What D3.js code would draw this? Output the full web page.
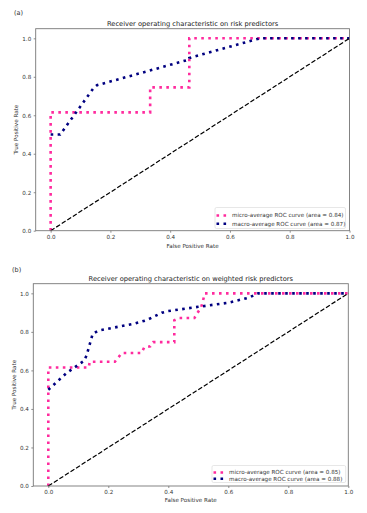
<!DOCTYPE html>
<html><head><meta charset="utf-8">
<script src="https://cdn.jsdelivr.net/npm/d3@7"></script>
<style>html,body{margin:0;padding:0;background:#fff;}svg{display:block;font-family:"DejaVu Sans",sans-serif;}</style>
</head><body>
<script>
// ---- data ----
const panelTags = ["(a)", "(b)"];
const titles = ["Receiver operating characteristic on risk predictors",
                "Receiver operating characteristic on weighted risk predictors"];
const xLabel = "False Positive Rate";
const yLabel = "True Positive Rate";
const tickValues = [0, 0.2, 0.4, 0.6, 0.8, 1.0];
const tickLabels = ["0.0", "0.2", "0.4", "0.6", "0.8", "1.0"];

const microA_fpr = [0, 0, 0.333, 0.333, 0.464, 0.464, 1.0];
const microA_tpr = [0, 0.615, 0.615, 0.745, 0.745, 1.0, 1.0];
const macroA_fpr = [0, 0.032, 0.143, 0.155, 0.464, 0.464, 0.70, 1.0];
const macroA_tpr = [0.5, 0.5, 0.74, 0.756, 0.89, 0.898, 1.0, 1.0];

const microB_fpr = [0, 0, 0.135, 0.138, 0.222, 0.245, 0.31, 0.32, 0.34, 0.35, 0.42, 0.42, 0.435, 0.487, 0.51, 0.522, 1.0];
const microB_tpr = [0, 0.615, 0.615, 0.645, 0.645, 0.69, 0.69, 0.72, 0.725, 0.747, 0.747, 0.86, 0.872, 0.872, 0.93, 1.0, 1.0];
const macroB_fpr = [0, 0.06, 0.12, 0.128, 0.148, 0.166, 0.29, 0.328, 0.378, 0.40, 0.50, 0.60, 0.667, 0.70, 1.0];
const macroB_tpr = [0.5, 0.585, 0.651, 0.68, 0.79, 0.806, 0.844, 0.861, 0.899, 0.908, 0.93, 0.951, 0.977, 1.0, 1.0];

const legendA = ["micro-average ROC curve (area = 0.84)", "macro-average ROC curve (area = 0.87)"];
const legendB = ["micro-average ROC curve (area = 0.85)", "macro-average ROC curve (area = 0.88)"];
const seriesColors = ["deeppink", "navy"];

// ---- layout ----
const W = 367, H = 513;
const panels = [
  {tag: panelTags[0], title: titles[0], micro: [microA_fpr, microA_tpr], macro: [macroA_fpr, macroA_tpr], legend: legendA,
   left: 35.7, right: 349.5, top: 28.7, bottom: 230.7, tagX: 14, tagY: 14.5, titleY: 25.5, xlabY: 247.5, ylabX: 18,
   leg: {x: 215, y: 207.5, w: 130.5, h: 21}},
  {tag: panelTags[1], title: titles[1], micro: [microB_fpr, microB_tpr], macro: [macroB_fpr, macroB_tpr], legend: legendB,
   left: 33.3, right: 348.3, top: 283.7, bottom: 486, tagX: 12, tagY: 271.5, titleY: 280.5, xlabY: 501.5, ylabX: 16,
   leg: {x: 212, y: 465.5, w: 133.7, h: 17}}
];

const svg = d3.select("body").append("svg").attr("width", W).attr("height", H);

const tickFont = 5.6, titleFont = 6.7;

panels.forEach(p => {
  const g = svg.append("g");
  const x = d3.scaleLinear().domain([-0.05, 1.0]).range([p.left, p.right]);
  const y = d3.scaleLinear().domain([0, 1.05]).range([p.bottom, p.top]);

  // panel tag
  g.append("text").attr("x", p.tagX).attr("y", p.tagY).attr("font-size", 6.5).attr("fill", "#333").text(p.tag);
  // title
  g.append("text").attr("x", (p.left + p.right) / 2).attr("y", p.titleY).attr("text-anchor", "middle")
    .attr("font-size", titleFont).attr("fill", "#222").text(p.title);

  const clipId = "clip" + p.tag.replace(/\W/g, "");
  g.append("clipPath").attr("id", clipId).append("rect")
    .attr("x", p.left).attr("y", p.top - 3).attr("width", p.right - p.left + 3).attr("height", p.bottom - p.top + 6);

  const line = d3.line().x(d => x(d[0])).y(d => y(d[1]));
  const zip = (a, b) => a.map((v, i) => [v, b[i]]);
  const plot = g.append("g").attr("clip-path", `url(#${clipId})`);

  plot.append("path").datum(zip(p.micro[0], p.micro[1])).attr("d", line)
    .attr("fill", "none").attr("stroke", seriesColors[0]).attr("stroke-width", 2.6)
    .attr("stroke-dasharray", "2.6 4.4").attr("stroke-linecap", "butt").attr("opacity", 0.9);
  plot.append("path").datum(zip(p.macro[0], p.macro[1])).attr("d", line)
    .attr("fill", "none").attr("stroke", seriesColors[1]).attr("stroke-width", 2.6)
    .attr("stroke-dasharray", "2.6 4.4").attr("stroke-linecap", "butt");
  plot.append("path").datum([[0, 0], [1, 1]]).attr("d", line)
    .attr("fill", "none").attr("stroke", "#000").attr("stroke-width", 1.2)
    .attr("stroke-dasharray", "4.6 2");

  // axes
  const xAxis = d3.axisBottom(x).tickValues(tickValues).tickFormat((d, i) => tickLabels[i]).tickSize(2).tickPadding(2.5);
  const yAxis = d3.axisLeft(y).tickValues(tickValues).tickFormat((d, i) => tickLabels[i]).tickSize(2).tickPadding(2.5);
  const gx = g.append("g").attr("transform", `translate(0,${p.bottom})`).call(xAxis);
  const gy = g.append("g").attr("transform", `translate(${p.left},0)`).call(yAxis);
  [gx, gy].forEach(a => {
    a.select(".domain").remove();
    a.selectAll("text").attr("font-size", tickFont).attr("fill", "#333").attr("font-family", "DejaVu Sans");
    a.selectAll("line").attr("stroke", "#444").attr("stroke-width", 0.6);
  });
  // frame
  g.append("rect").attr("x", p.left).attr("y", p.top).attr("width", p.right - p.left).attr("height", p.bottom - p.top)
    .attr("fill", "none").attr("stroke", "#777").attr("stroke-width", 0.9);

  // axis labels
  g.append("text").attr("x", (p.left + p.right) / 2).attr("y", p.xlabY).attr("text-anchor", "middle")
    .attr("font-size", tickFont).attr("fill", "#333").text(xLabel);
  g.append("text").attr("transform", `translate(${p.ylabX},${(p.top + p.bottom) / 2}) rotate(-90)`)
    .attr("text-anchor", "middle").attr("font-size", tickFont).attr("fill", "#333").text(yLabel);

  // legend
  const L = p.leg;
  g.append("rect").attr("x", L.x).attr("y", L.y).attr("width", L.w).attr("height", L.h).attr("rx", 1.5)
    .attr("fill", "rgba(255,255,255,0.8)").attr("stroke", "#d6d6d6").attr("stroke-width", 0.6);
  const rowH = (L.h - 4.5) / 2;
  p.legend.forEach((lab, i) => {
    const cy = L.y + 3.5 + rowH * (i + 0.5) + 0.3;
    g.append("line").attr("x1", L.x + 1.5).attr("x2", L.x + 12.5).attr("y1", cy).attr("y2", cy)
      .attr("stroke", seriesColors[i]).attr("stroke-width", 2.6).attr("stroke-dasharray", "2.6 4.4")
      .attr("opacity", i === 0 ? 0.9 : 1);
    g.append("text").attr("x", L.x + 17).attr("y", cy).attr("dy", "0.35em")
      .attr("font-size", tickFont).attr("fill", "#333").text(lab);
  });
});
</script>
</body></html>
